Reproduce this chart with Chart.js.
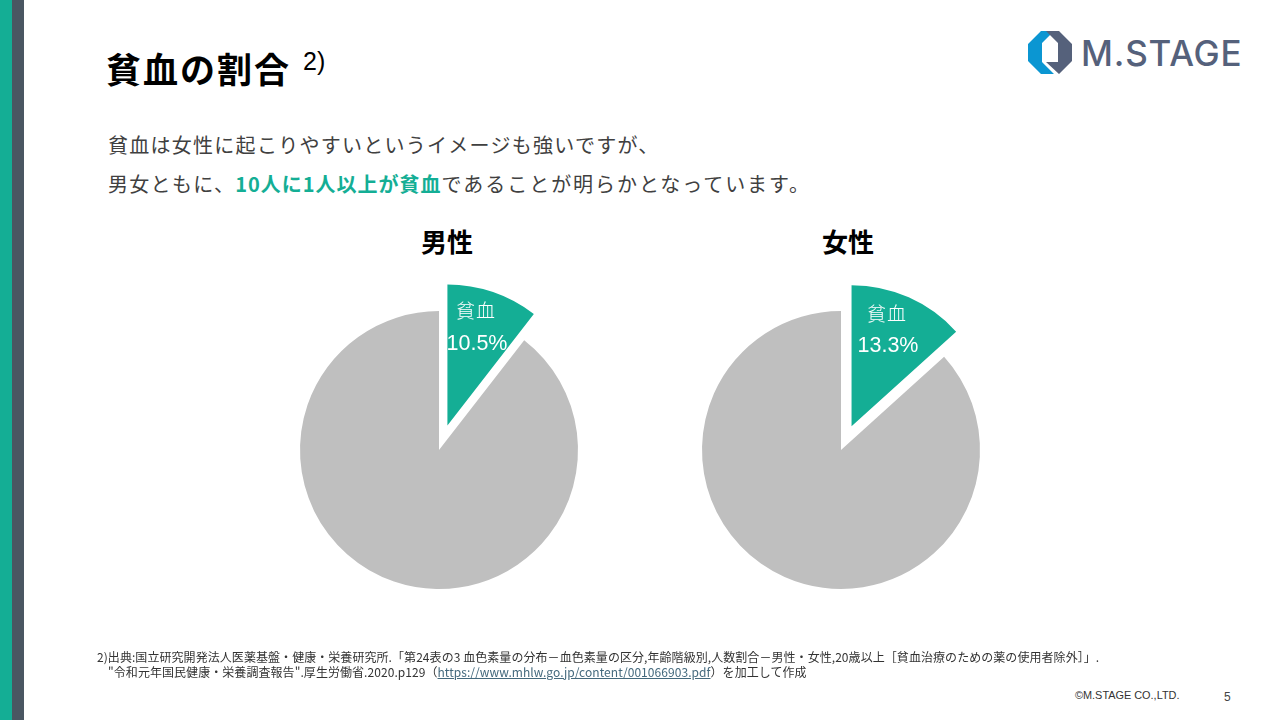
<!DOCTYPE html>
<html lang="ja">
<head>
<meta charset="utf-8">
<title>貧血の割合</title>
<script src="https://cdn.jsdelivr.net/npm/chart.js@4"></script>
<style>
html, body { margin: 0; padding: 0; background: #fff; }
#slide { position: relative; width: 1280px; height: 720px; overflow: hidden; font-family: "Noto Sans CJK JP", sans-serif; color: #333; }
#slide > div, #slide > canvas, #slide > svg { position: absolute; white-space: nowrap; }
.band1 { left: 0; top: 0; width: 12px; height: 720px; background: #14ae95; }
.band2 { left: 12px; top: 0; width: 12px; height: 720px; background: #4a5762; }
.title { left: 106px; top: 43px; font-size: 35px; line-height: 50px; font-weight: 700; color: #000; letter-spacing: 2px; }
.sup { left: 303px; top: 47px; font-family: "Liberation Sans", sans-serif; font-size: 25px; line-height: 29px; color: #000; }
.lead { left: 108px; font-size: 20px; line-height: 30px; letter-spacing: 1.27px; color: #404040; font-weight: 400; }
.lead .head { letter-spacing: 1.3px; }
.lead b { color: #14ae95; font-weight: 700; letter-spacing: 1px; }
.lead .tail { letter-spacing: 1.95px; }
.pie-title { font-size: 26px; line-height: 36px; font-weight: 700; color: #000; width: 120px; text-align: center; }
.slice-name { color: #fff; font-size: 19px; line-height: 24px; font-weight: 300; width: 80px; text-align: center; letter-spacing: 1px; }
.slice-value { color: #fff; font-family: "Liberation Sans", sans-serif; font-size: 21.5px; line-height: 24px; width: 80px; text-align: center; }
.note { left: 97px; font-size: 12px; line-height: 14px; color: #333; letter-spacing: 0.06px; }
.note a { color: #44697d; text-decoration: underline; }
.copy { left: 1075px; top: 688px; font-family: "Liberation Sans", sans-serif; font-size: 10.9px; line-height: 14px; color: #333; }
.page { left: 1224px; top: 689px; font-family: "Liberation Sans", sans-serif; font-size: 12px; line-height: 16px; color: #444; }
.logo-text { left: 1081px; top: 30px; font-family: Inter, sans-serif; font-weight: 500; font-size: 35px; line-height: 46px; color: #55617b; letter-spacing: 0.8px; }
</style>
</head>
<body>
<div id="slide">
  <div class="band1"></div>
  <div class="band2"></div>

  <div class="title">貧血の割合</div>
  <div class="sup">2)</div>

  <svg style="left:1028px;top:31px" width="44" height="44" viewBox="0 0 44 44">
    <polygon points="13,0 26,0 14,12 14,31 26,43 13,43 0,30 0,13" fill="#0b96d2"/>
    <polygon points="18,0 31,0 44,13 44,30 31,43 18,31 30,31 30,12" fill="#55617b"/>
  </svg>
  <div class="logo-text">M.STAGE</div>

  <div class="lead" style="top:130px">貧血は女性に起こりやすいというイメージも強いですが、</div>
  <div class="lead" style="top:169px"><span class="head">男女ともに、</span><b>10人に1人以上が貧血</b><span class="tail">であることが明らかとなっています。</span></div>

  <div class="pie-title" id="titleMale" style="left:387px;top:223px"></div>
  <div class="pie-title" id="titleFemale" style="left:788px;top:223px"></div>

  <canvas id="pieMale" width="400" height="400" style="left:239px;top:250px"></canvas>
  <canvas id="pieFemale" width="400" height="400" style="left:641px;top:250px"></canvas>

  <div class="slice-name" id="nameMale" style="left:436px;top:298px"></div>
  <div class="slice-value" id="valueMale" style="left:437px;top:331px"></div>
  <div class="slice-name" id="nameFemale" style="left:847px;top:301px"></div>
  <div class="slice-value" id="valueFemale" style="left:848px;top:333px"></div>

  <div class="note" style="top:650px">2)出典:国立研究開発法人医薬基盤・健康・栄養研究所.「第24表の3 血色素量の分布－血色素量の区分,年齢階級別,人数割合－男性・女性,20歳以上［貧血治療のための薬の使用者除外］」.</div>
  <div class="note" style="top:665px"><span style="margin-left:11px">"令和元年国民健康・栄養調査報告".厚生労働省.2020.p129（<a>https://www.mhlw.go.jp/content/001066903.pdf</a>）を加工して作成</span></div>

  <div class="copy">©M.STAGE CO.,LTD.</div>
  <div class="page">5</div>
</div>

<script>
// values
const categories = ['貧血', 'その他'];
const maleValues = [10.5, 89.5];
const femaleValues = [13.3, 86.7];
const pieTitles = ['男性', '女性'];

const GREEN = '#14ae95';
const GRAY = '#bfbfbf';
const PIE_RADIUS = 139;
const SLICE_RADIUS = 141;
const SLICE_EXPLODE = 26;

// Chart.js scales the built in offset option in a odd way, so pull the slice out here
const explodeFirstSlice = {
    id: 'explodeFirstSlice',
    afterDatasetsUpdate(chart) {
        const arc = chart.getDatasetMeta(0).data[0];
        const mid = (arc.startAngle + arc.endAngle) / 2;
        arc.x += Math.cos(mid) * SLICE_EXPLODE;
        arc.y += Math.sin(mid) * SLICE_EXPLODE;
        arc.outerRadius = SLICE_RADIUS;
    }
};

function drawPie(id, values) {
    return new Chart(document.getElementById(id), {
        type: 'pie',
        data: {
            labels: categories,
            datasets: [{
                data: values,
                backgroundColor: [GREEN, GRAY],
                borderWidth: 0,
                radius: PIE_RADIUS
            }]
        },
        options: {
            responsive: false,
            animation: false,
            devicePixelRatio: 1,
            layout: { padding: 0 },
            plugins: { legend: { display: false }, tooltip: { enabled: false } }
        },
        plugins: [explodeFirstSlice]
    });
}

drawPie('pieMale', maleValues);
drawPie('pieFemale', femaleValues);

document.getElementById('titleMale').textContent = pieTitles[0];
document.getElementById('titleFemale').textContent = pieTitles[1];
document.getElementById('nameMale').textContent = categories[0];
document.getElementById('nameFemale').textContent = categories[0];
document.getElementById('valueMale').textContent = maleValues[0].toFixed(1) + '%';
document.getElementById('valueFemale').textContent = femaleValues[0].toFixed(1) + '%';
</script>
</body>
</html>
